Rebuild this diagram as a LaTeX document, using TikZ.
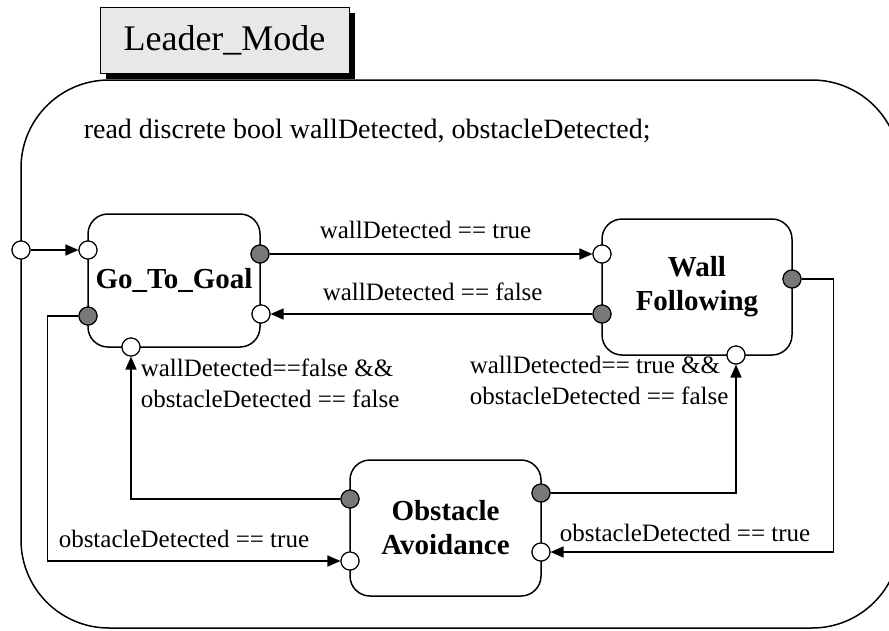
\documentclass[tikz,border=0pt]{standalone}
\usepackage{fontspec}
\setmainfont{Liberation Serif}
\usetikzlibrary{arrows.meta}
\definecolor{tabgray}{RGB}{232,232,232}
\definecolor{portgray}{RGB}{120,120,120}
\begin{document}
\begin{tikzpicture}[x=1pt,y=-1pt,line width=1.5pt,
  state/.style={draw, rounded corners=20pt, align=center, inner sep=0pt,
    font=\fontsize{29}{34}\selectfont\bfseries},
  portin/.style={circle, draw, fill=white, minimum size=18pt, inner sep=0pt, line width=1.1pt},
  portout/.style={circle, draw, fill=portgray, minimum size=18pt, inner sep=0pt, line width=1.1pt},
  guard/.style={anchor=base west, inner sep=0pt, align=left,
    font=\fontsize{25}{30.5}\selectfont},
  arr/.style={-{Triangle[length=13pt,width=11pt]}}
]
\useasboundingbox (0,0) rectangle (889,630);
\clip (0,0) rectangle (889,630);

% mode frame
\draw (21,80) [rounded corners=88pt] rectangle (900,628);

% mode name tab with drop shadow
\fill[black] (106,13) rectangle (355,79);
\node[draw, fill=tabgray, line width=1pt, minimum width=249pt, minimum height=66pt,
  inner sep=0pt, font=\fontsize{36}{40}\selectfont] (tab) at (224.5,40) {Leader\_Mode};

\node[guard, font=\fontsize{28}{32}\selectfont] (decl) at (83,138)
  {read discrete bool wallDetected, obstacleDetected;};

% states
\node[state, minimum width=172pt, minimum height=133pt] (goal) at (174,280.5) {Go\_To\_Goal};
\node[state, minimum width=190pt, minimum height=136pt] (wall) at (697,287) {Wall\\Following};
\node[state, minimum width=191pt, minimum height=136pt] (obst) at (445.5,528) {Obstacle\\Avoidance};

% ports
\node[portin]  (init)  at (21,250) {};
\node[portin]  (gIn)   at (88,250) {};
\node[portout] (gOutR) at (260,254) {};
\node[portout] (gOutL) at (88,316) {};
\node[portin]  (gInR)  at (261,314) {};
\node[portin]  (gInB)  at (131,347) {};

\node[portin]  (wIn)   at (602,254) {};
\node[portout] (wOutL) at (602,314) {};
\node[portout] (wOutR) at (792,279) {};
\node[portin]  (wInB)  at (736,355) {};

\node[portout] (oOutL) at (350,499) {};
\node[portin]  (oIn)   at (350,561) {};
\node[portout] (oOutR) at (541,493) {};
\node[portin]  (oInR)  at (541,552) {};

% transitions
\draw[arr] (init) -- (gIn);
\draw[arr] (gOutR) -- (wIn);
\draw[arr] (wOutL) -- (gInR);
\draw[arr] (gOutL.west) -- ++(-31,0) |- (oIn);
\draw[arr] (oOutL) -| (gInB);
\draw[arr] (oOutR) -| (wInB);
\draw[arr] (wOutR.east) -- ++(32,0) |- (oInR);

% guards
\node[guard] (g1) at (319,238) {wallDetected == true};
\node[guard] (g2) at (322,300) {wallDetected == false};
\node[guard] (g3) at (140,407) {wallDetected==false \&\&\\obstacleDetected == false};
\node[guard] (g4) at (469,404) {wallDetected== true \&\&\\obstacleDetected == false};
\node[guard] (g5) at (58,547) {obstacleDetected == true};
\node[guard, anchor=base east] (g6) at (811,541) {obstacleDetected == true};

% redraw ports above line ends
\foreach \p in {init,gIn,gInR,gInB,wIn,wInB,oIn,oInR}
  \node[portin] at (\p) {};
\foreach \p in {gOutR,gOutL,wOutL,wOutR,oOutL,oOutR}
  \node[portout] at (\p) {};
\end{tikzpicture}
\end{document}
